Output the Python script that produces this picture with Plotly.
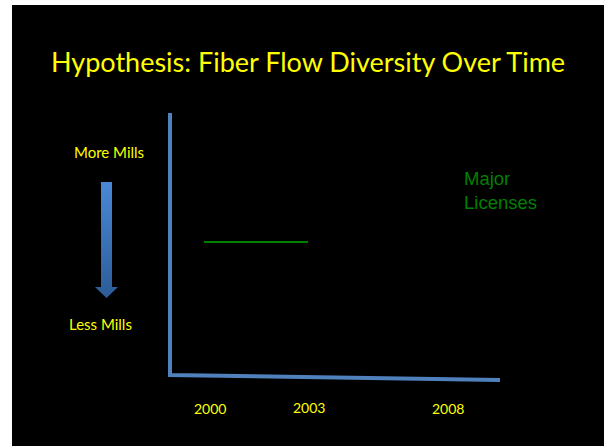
import plotly.graph_objects as go

# Slide coordinates (x to the right, y downward), in slide units
W, H = 604, 446

# Axes of the diagram: vertical "mills" axis and the time axis
axis_x = [170, 170, 500]
axis_y = [113, 375, 380]

# Major licenses marker line
license_x = [204, 308]
license_y = [242, 242]

# Down arrow (More Mills -> Less Mills)
arrow_x = [101, 112, 112, 118, 106.5, 95, 101, 101]
arrow_y = [182, 182, 287, 287, 298, 287, 287, 182]

# Year labels along the time axis
year_labels = ["2000", "2003", "2008"]
year_x = [210, 309, 448]
year_y = [408, 407, 408]

title_text = "Hypothesis: Fiber Flow Diversity Over Time"
yellow = "#FFFF00"
blue = "#4F81BD"

fig = go.Figure()

fig.add_trace(go.Scatter(
    x=arrow_x, y=arrow_y, mode="lines", fill="toself",
    line=dict(width=0, color="rgba(0,0,0,0)"),
    fillgradient=dict(type="vertical", start=182, stop=298,
                      colorscale=[[0, "#4A88D6"], [1, "#2C5C98"]]),
    hoverinfo="skip", showlegend=False))

fig.add_trace(go.Scatter(
    x=axis_x, y=axis_y, mode="lines",
    line=dict(color=blue, width=4),
    hoverinfo="skip", showlegend=False))

fig.add_trace(go.Scatter(
    x=license_x, y=license_y, mode="lines",
    line=dict(color="#008000", width=2),
    hoverinfo="skip", showlegend=False))

annotations = [
    dict(x=308, y=61, text=title_text, font=dict(size=27, color=yellow, family="Lato")),
    dict(x=108.5, y=152, text="More Mills", font=dict(size=15, color=yellow, family="Lato")),
    dict(x=100.5, y=324, text="Less Mills", font=dict(size=15, color=yellow, family="Lato")),
    dict(x=462, y=190, text="Major<br>Licenses", align="left", xanchor="left",
         font=dict(size=18.5, color="#008000", family="Liberation Sans")),
]
for lbl, xx, yy in zip(year_labels, year_x, year_y):
    annotations.append(dict(x=xx, y=yy, text=lbl,
                            font=dict(size=14, color=yellow, family="Lato")))
for a in annotations:
    a.setdefault("xanchor", "center")
    a.update(xref="x", yref="y", showarrow=False, yanchor="middle")

fig.update_layout(
    width=W, height=H,
    margin=dict(l=0, r=0, t=0, b=0),
    paper_bgcolor="white", plot_bgcolor="black",
    xaxis=dict(range=[12, W], domain=[12 / W, 1], visible=False, fixedrange=True),
    yaxis=dict(range=[H, 5], domain=[0, (H - 5) / H], visible=False, fixedrange=True),
    annotations=annotations,
)

fig.write_html("out.html")
